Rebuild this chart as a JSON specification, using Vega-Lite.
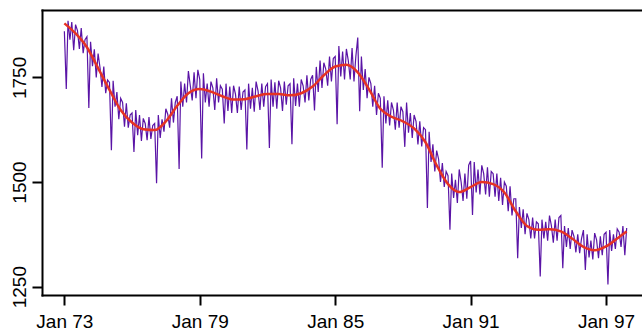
{
  "$schema": "https://vega.github.io/schema/vega-lite/v6.json",
  "width": 600,
  "height": 285,
  "autosize": "none",
  "padding": {"left": 42, "top": 10, "right": 0, "bottom": 36},
  "background": "white",
  "config": {
    "view": {"stroke": null},
    "font": "Liberation Sans",
    "axis": {
      "grid": false,
      "title": null,
      "domainColor": "#000000",
      "domainWidth": 2,
      "domainCap": "square",
      "tickColor": "#000000",
      "tickWidth": 2,
      "tickSize": 10,
      "labelColor": "#000000",
      "labelFont": "Liberation Sans",
      "labelFontSize": 19,
      "labelFlush": false,
      "labelOverlap": false
    }
  },
  "datasets": {
    "monthly": [
      {"date":"1973/01/01","value":1860},{"date":"1973/02/01","value":1722},{"date":"1973/03/01","value":1885},{"date":"1973/04/01","value":1840},{"date":"1973/05/01","value":1882},{"date":"1973/06/01","value":1815},{"date":"1973/07/01","value":1876},{"date":"1973/08/01","value":1862},{"date":"1973/09/01","value":1818},{"date":"1973/10/01","value":1868},{"date":"1973/11/01","value":1808},{"date":"1973/12/01","value":1840},
      {"date":"1974/01/01","value":1847},{"date":"1974/02/01","value":1677},{"date":"1974/03/01","value":1835},{"date":"1974/04/01","value":1777},{"date":"1974/05/01","value":1817},{"date":"1974/06/01","value":1750},{"date":"1974/07/01","value":1807},{"date":"1974/08/01","value":1773},{"date":"1974/09/01","value":1727},{"date":"1974/10/01","value":1776},{"date":"1974/11/01","value":1712},{"date":"1974/12/01","value":1744},
      {"date":"1975/01/01","value":1738},{"date":"1975/02/01","value":1576},{"date":"1975/03/01","value":1742},{"date":"1975/04/01","value":1680},{"date":"1975/05/01","value":1715},{"date":"1975/06/01","value":1650},{"date":"1975/07/01","value":1700},{"date":"1975/08/01","value":1690},{"date":"1975/09/01","value":1632},{"date":"1975/10/01","value":1688},{"date":"1975/11/01","value":1630},{"date":"1975/12/01","value":1660},
      {"date":"1976/01/01","value":1665},{"date":"1976/02/01","value":1572},{"date":"1976/03/01","value":1672},{"date":"1976/04/01","value":1612},{"date":"1976/05/01","value":1660},{"date":"1976/06/01","value":1598},{"date":"1976/07/01","value":1652},{"date":"1976/08/01","value":1640},{"date":"1976/09/01","value":1600},{"date":"1976/10/01","value":1655},{"date":"1976/11/01","value":1603},{"date":"1976/12/01","value":1635},
      {"date":"1977/01/01","value":1640},{"date":"1977/02/01","value":1497},{"date":"1977/03/01","value":1660},{"date":"1977/04/01","value":1605},{"date":"1977/05/01","value":1650},{"date":"1977/06/01","value":1620},{"date":"1977/07/01","value":1675},{"date":"1977/08/01","value":1662},{"date":"1977/09/01","value":1630},{"date":"1977/10/01","value":1700},{"date":"1977/11/01","value":1642},{"date":"1977/12/01","value":1690},
      {"date":"1978/01/01","value":1705},{"date":"1978/02/01","value":1531},{"date":"1978/03/01","value":1740},{"date":"1978/04/01","value":1680},{"date":"1978/05/01","value":1735},{"date":"1978/06/01","value":1690},{"date":"1978/07/01","value":1765},{"date":"1978/08/01","value":1730},{"date":"1978/09/01","value":1695},{"date":"1978/10/01","value":1762},{"date":"1978/11/01","value":1700},{"date":"1978/12/01","value":1768},
      {"date":"1979/01/01","value":1745},{"date":"1979/02/01","value":1556},{"date":"1979/03/01","value":1760},{"date":"1979/04/01","value":1690},{"date":"1979/05/01","value":1735},{"date":"1979/06/01","value":1680},{"date":"1979/07/01","value":1740},{"date":"1979/08/01","value":1725},{"date":"1979/09/01","value":1672},{"date":"1979/10/01","value":1748},{"date":"1979/11/01","value":1690},{"date":"1979/12/01","value":1730},
      {"date":"1980/01/01","value":1722},{"date":"1980/02/01","value":1640},{"date":"1980/03/01","value":1735},{"date":"1980/04/01","value":1670},{"date":"1980/05/01","value":1728},{"date":"1980/06/01","value":1665},{"date":"1980/07/01","value":1730},{"date":"1980/08/01","value":1710},{"date":"1980/09/01","value":1665},{"date":"1980/10/01","value":1728},{"date":"1980/11/01","value":1672},{"date":"1980/12/01","value":1715},
      {"date":"1981/01/01","value":1720},{"date":"1981/02/01","value":1578},{"date":"1981/03/01","value":1735},{"date":"1981/04/01","value":1675},{"date":"1981/05/01","value":1725},{"date":"1981/06/01","value":1668},{"date":"1981/07/01","value":1740},{"date":"1981/08/01","value":1718},{"date":"1981/09/01","value":1672},{"date":"1981/10/01","value":1735},{"date":"1981/11/01","value":1680},{"date":"1981/12/01","value":1728},
      {"date":"1982/01/01","value":1735},{"date":"1982/02/01","value":1581},{"date":"1982/03/01","value":1745},{"date":"1982/04/01","value":1680},{"date":"1982/05/01","value":1738},{"date":"1982/06/01","value":1675},{"date":"1982/07/01","value":1742},{"date":"1982/08/01","value":1725},{"date":"1982/09/01","value":1670},{"date":"1982/10/01","value":1740},{"date":"1982/11/01","value":1685},{"date":"1982/12/01","value":1730},
      {"date":"1983/01/01","value":1735},{"date":"1983/02/01","value":1590},{"date":"1983/03/01","value":1748},{"date":"1983/04/01","value":1682},{"date":"1983/05/01","value":1735},{"date":"1983/06/01","value":1680},{"date":"1983/07/01","value":1745},{"date":"1983/08/01","value":1730},{"date":"1983/09/01","value":1690},{"date":"1983/10/01","value":1755},{"date":"1983/11/01","value":1695},{"date":"1983/12/01","value":1745},
      {"date":"1984/01/01","value":1755},{"date":"1984/02/01","value":1671},{"date":"1984/03/01","value":1775},{"date":"1984/04/01","value":1715},{"date":"1984/05/01","value":1790},{"date":"1984/06/01","value":1725},{"date":"1984/07/01","value":1785},{"date":"1984/08/01","value":1770},{"date":"1984/09/01","value":1730},{"date":"1984/10/01","value":1800},{"date":"1984/11/01","value":1740},{"date":"1984/12/01","value":1795},
      {"date":"1985/01/01","value":1800},{"date":"1985/02/01","value":1638},{"date":"1985/03/01","value":1825},{"date":"1985/04/01","value":1752},{"date":"1985/05/01","value":1812},{"date":"1985/06/01","value":1745},{"date":"1985/07/01","value":1818},{"date":"1985/08/01","value":1790},{"date":"1985/09/01","value":1745},{"date":"1985/10/01","value":1820},{"date":"1985/11/01","value":1740},{"date":"1985/12/01","value":1800},
      {"date":"1986/01/01","value":1845},{"date":"1986/02/01","value":1669},{"date":"1986/03/01","value":1800},{"date":"1986/04/01","value":1720},{"date":"1986/05/01","value":1770},{"date":"1986/06/01","value":1700},{"date":"1986/07/01","value":1750},{"date":"1986/08/01","value":1735},{"date":"1986/09/01","value":1680},{"date":"1986/10/01","value":1730},{"date":"1986/11/01","value":1660},{"date":"1986/12/01","value":1712},
      {"date":"1987/01/01","value":1700},{"date":"1987/02/01","value":1534},{"date":"1987/03/01","value":1705},{"date":"1987/04/01","value":1640},{"date":"1987/05/01","value":1695},{"date":"1987/06/01","value":1635},{"date":"1987/07/01","value":1690},{"date":"1987/08/01","value":1672},{"date":"1987/09/01","value":1625},{"date":"1987/10/01","value":1690},{"date":"1987/11/01","value":1630},{"date":"1987/12/01","value":1680},
      {"date":"1988/01/01","value":1668},{"date":"1988/02/01","value":1584},{"date":"1988/03/01","value":1690},{"date":"1988/04/01","value":1618},{"date":"1988/05/01","value":1665},{"date":"1988/06/01","value":1605},{"date":"1988/07/01","value":1660},{"date":"1988/08/01","value":1645},{"date":"1988/09/01","value":1590},{"date":"1988/10/01","value":1645},{"date":"1988/11/01","value":1585},{"date":"1988/12/01","value":1630},
      {"date":"1989/01/01","value":1625},{"date":"1989/02/01","value":1438},{"date":"1989/03/01","value":1620},{"date":"1989/04/01","value":1548},{"date":"1989/05/01","value":1590},{"date":"1989/06/01","value":1525},{"date":"1989/07/01","value":1575},{"date":"1989/08/01","value":1555},{"date":"1989/09/01","value":1500},{"date":"1989/10/01","value":1545},{"date":"1989/11/01","value":1488},{"date":"1989/12/01","value":1525},
      {"date":"1990/01/01","value":1515},{"date":"1990/02/01","value":1386},{"date":"1990/03/01","value":1520},{"date":"1990/04/01","value":1462},{"date":"1990/05/01","value":1505},{"date":"1990/06/01","value":1450},{"date":"1990/07/01","value":1530},{"date":"1990/08/01","value":1500},{"date":"1990/09/01","value":1455},{"date":"1990/10/01","value":1520},{"date":"1990/11/01","value":1460},{"date":"1990/12/01","value":1540},
      {"date":"1991/01/01","value":1550},{"date":"1991/02/01","value":1421},{"date":"1991/03/01","value":1548},{"date":"1991/04/01","value":1475},{"date":"1991/05/01","value":1530},{"date":"1991/06/01","value":1470},{"date":"1991/07/01","value":1540},{"date":"1991/08/01","value":1520},{"date":"1991/09/01","value":1470},{"date":"1991/10/01","value":1535},{"date":"1991/11/01","value":1465},{"date":"1991/12/01","value":1525},
      {"date":"1992/01/01","value":1520},{"date":"1992/02/01","value":1465},{"date":"1992/03/01","value":1520},{"date":"1992/04/01","value":1455},{"date":"1992/05/01","value":1510},{"date":"1992/06/01","value":1445},{"date":"1992/07/01","value":1500},{"date":"1992/08/01","value":1490},{"date":"1992/09/01","value":1430},{"date":"1992/10/01","value":1490},{"date":"1992/11/01","value":1420},{"date":"1992/12/01","value":1460},
      {"date":"1993/01/01","value":1460},{"date":"1993/02/01","value":1318},{"date":"1993/03/01","value":1440},{"date":"1993/04/01","value":1390},{"date":"1993/05/01","value":1435},{"date":"1993/06/01","value":1375},{"date":"1993/07/01","value":1425},{"date":"1993/08/01","value":1410},{"date":"1993/09/01","value":1365},{"date":"1993/10/01","value":1415},{"date":"1993/11/01","value":1365},{"date":"1993/12/01","value":1405},
      {"date":"1994/01/01","value":1400},{"date":"1994/02/01","value":1274},{"date":"1994/03/01","value":1410},{"date":"1994/04/01","value":1365},{"date":"1994/05/01","value":1405},{"date":"1994/06/01","value":1360},{"date":"1994/07/01","value":1420},{"date":"1994/08/01","value":1395},{"date":"1994/09/01","value":1355},{"date":"1994/10/01","value":1410},{"date":"1994/11/01","value":1360},{"date":"1994/12/01","value":1415},
      {"date":"1995/01/01","value":1420},{"date":"1995/02/01","value":1294},{"date":"1995/03/01","value":1395},{"date":"1995/04/01","value":1345},{"date":"1995/05/01","value":1390},{"date":"1995/06/01","value":1340},{"date":"1995/07/01","value":1385},{"date":"1995/08/01","value":1370},{"date":"1995/09/01","value":1332},{"date":"1995/10/01","value":1375},{"date":"1995/11/01","value":1330},{"date":"1995/12/01","value":1365},
      {"date":"1996/01/01","value":1385},{"date":"1996/02/01","value":1290},{"date":"1996/03/01","value":1375},{"date":"1996/04/01","value":1320},{"date":"1996/05/01","value":1360},{"date":"1996/06/01","value":1315},{"date":"1996/07/01","value":1378},{"date":"1996/08/01","value":1362},{"date":"1996/09/01","value":1318},{"date":"1996/10/01","value":1370},{"date":"1996/11/01","value":1325},{"date":"1996/12/01","value":1375},
      {"date":"1997/01/01","value":1380},{"date":"1997/02/01","value":1255},{"date":"1997/03/01","value":1385},{"date":"1997/04/01","value":1335},{"date":"1997/05/01","value":1375},{"date":"1997/06/01","value":1340},{"date":"1997/07/01","value":1388},{"date":"1997/08/01","value":1380},{"date":"1997/09/01","value":1345},{"date":"1997/10/01","value":1395},{"date":"1997/11/01","value":1325},{"date":"1997/12/01","value":1390}
    ],
    "trend": [
      {"date":"1973/01/01","value":1879},{"date":"1973/07/01","value":1855},
      {"date":"1974/01/01","value":1822},{"date":"1974/07/01","value":1772},
      {"date":"1975/01/01","value":1720},{"date":"1975/07/01","value":1672},
      {"date":"1976/01/01","value":1642},{"date":"1976/07/01","value":1626},
      {"date":"1977/01/01","value":1624},{"date":"1977/07/01","value":1645},
      {"date":"1978/01/01","value":1682},{"date":"1978/07/01","value":1712},
      {"date":"1979/01/01","value":1722},{"date":"1979/07/01","value":1716},
      {"date":"1980/01/01","value":1705},{"date":"1980/07/01","value":1697},
      {"date":"1981/01/01","value":1698},{"date":"1981/07/01","value":1705},
      {"date":"1982/01/01","value":1710},{"date":"1982/07/01","value":1710},
      {"date":"1983/01/01","value":1707},{"date":"1983/07/01","value":1712},
      {"date":"1984/01/01","value":1728},{"date":"1984/07/01","value":1755},
      {"date":"1985/01/01","value":1776},{"date":"1985/07/01","value":1780},
      {"date":"1986/01/01","value":1762},{"date":"1986/07/01","value":1722},
      {"date":"1987/01/01","value":1675},{"date":"1987/07/01","value":1656},
      {"date":"1988/01/01","value":1645},{"date":"1988/07/01","value":1628},
      {"date":"1989/01/01","value":1595},{"date":"1989/07/01","value":1540},
      {"date":"1990/01/01","value":1495},{"date":"1990/07/01","value":1476},
      {"date":"1991/01/01","value":1488},{"date":"1991/07/01","value":1500},
      {"date":"1992/01/01","value":1495},{"date":"1992/07/01","value":1475},
      {"date":"1993/01/01","value":1430},{"date":"1993/07/01","value":1395},
      {"date":"1994/01/01","value":1386},{"date":"1994/07/01","value":1387},
      {"date":"1995/01/01","value":1382},{"date":"1995/07/01","value":1365},
      {"date":"1996/01/01","value":1345},{"date":"1996/07/01","value":1337},
      {"date":"1997/01/01","value":1346},{"date":"1997/07/01","value":1365},
      {"date":"1997/12/01","value":1382}
    ]
  },
  "layer": [
    {
      "data": {"name": "monthly"},
      "mark": {"type": "line", "color": "#5A14A6", "strokeWidth": 1.2, "clip": true},
      "encoding": {
        "x": {
          "field": "date",
          "type": "temporal",
          "scale": {"domain": [{"year": 1972, "month": 1, "date": 5}, {"year": 1998, "month": 8, "date": 6}]},
          "axis": {
            "orient": "bottom",
            "values": [{"year": 1973, "month": 1, "date": 1}, {"year": 1979, "month": 1, "date": 1}, {"year": 1985, "month": 1, "date": 1}, {"year": 1991, "month": 1, "date": 1}, {"year": 1997, "month": 1, "date": 1}],
            "format": "%b %y",
            "labelBaseline": "alphabetic",
            "labelPadding": 22
          }
        },
        "y": {
          "field": "value",
          "type": "quantitative",
          "scale": {"domain": [1230, 1911], "nice": false, "zero": false},
          "axis": {
            "values": [1250, 1500, 1750],
            "format": "d",
            "labelAngle": 270,
            "labelAlign": "center",
            "labelBaseline": "alphabetic",
            "labelPadding": 7
          }
        }
      }
    },
    {
      "data": {"name": "trend"},
      "mark": {"type": "line", "color": "#E63223", "strokeWidth": 2.5, "interpolate": "monotone", "clip": true},
      "encoding": {
        "x": {
          "field": "date",
          "type": "temporal",
          "axis": {"orient": "top", "labels": false, "ticks": false, "domain": true}
        },
        "y": {"field": "value", "type": "quantitative"}
      }
    }
  ],
  "resolve": {"axis": {"x": "independent"}}
}
